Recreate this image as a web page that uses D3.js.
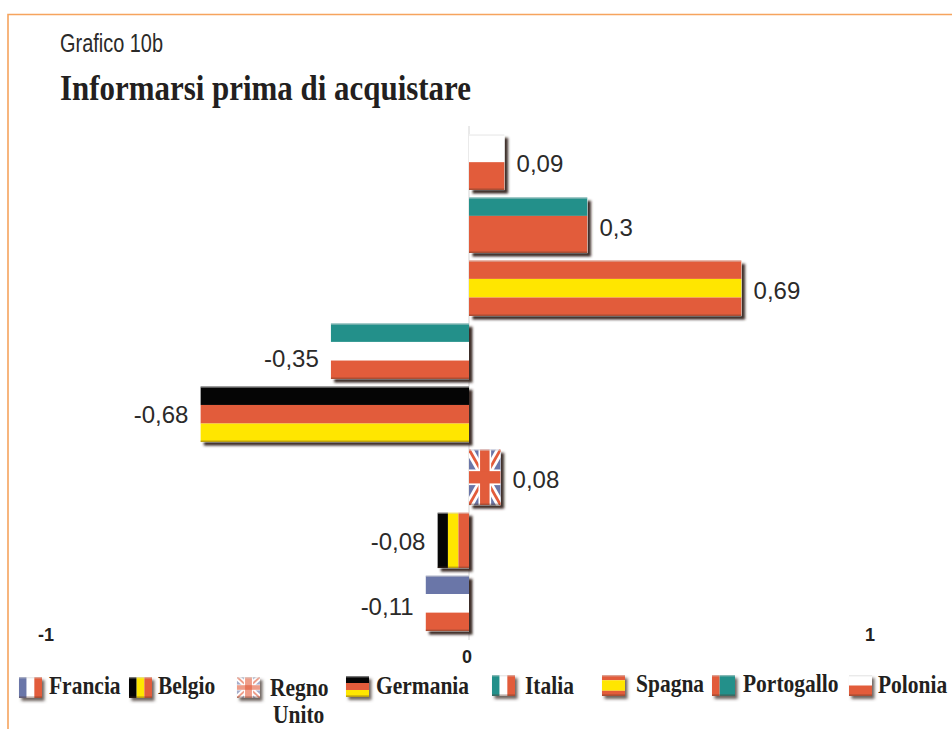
<!DOCTYPE html>
<html>
<head>
<meta charset="utf-8">
<script src="https://cdn.jsdelivr.net/npm/d3@7"></script>
<style>
html,body{margin:0;padding:0;background:#fff;}
svg{display:block;}
.val{font-family:"Liberation Sans",Arial,sans-serif;font-size:24px;fill:#2b2a29;}
.tick{font-family:"Liberation Sans",Arial,sans-serif;font-size:18px;font-weight:bold;fill:#231f20;}
.leg{font-family:"Liberation Serif",serif;font-size:25px;font-weight:bold;fill:#231f20;}
</style>
</head>
<body>
<script>
// ---- data ----
const categories = ["Polonia","Portogallo","Spagna","Italia","Germania","Regno Unito","Belgio","Francia"];
const values = [0.09,0.3,0.69,-0.35,-0.68,0.08,-0.08,-0.11];
const valueLabels = ["0,09","0,3","0,69","-0,35","-0,68","0,08","-0,08","-0,11"];
const axisTicks = [-1,0,1];
const legendOrder = ["Francia","Belgio","Regno Unito","Germania","Italia","Spagna","Portogallo","Polonia"];
const legendLines = [["Francia"],["Belgio"],["Regno","Unito"],["Germania"],["Italia"],["Spagna"],["Portogallo"],["Polonia"]];

// ---- palette ----
const RED="#e25c3b",TEAL="#23908a",YEL="#ffe600",WHITE="#ffffff",BLK="#050505",BLUE="#6a76a8";
const barFlags = {
  "Polonia":   {dir:"h",s:[[WHITE,1],[RED,1]]},
  "Portogallo":{dir:"h",s:[[TEAL,1],[RED,2]]},
  "Spagna":    {dir:"h",s:[[RED,1],[YEL,1],[RED,1]]},
  "Italia":    {dir:"h",s:[[TEAL,1],[WHITE,1],[RED,1]]},
  "Germania":  {dir:"h",s:[[BLK,1],[RED,1],[YEL,1]]},
  "Regno Unito":{dir:"uk"},
  "Belgio":    {dir:"v",s:[[BLK,1],[YEL,1],[RED,1]]},
  "Francia":   {dir:"h",s:[[BLUE,1],[WHITE,1],[RED,1]]}
};
const legendFlags = {
  "Polonia":   {dir:"h",s:[[WHITE,1],[RED,1]]},
  "Portogallo":{dir:"v",s:[[RED,1],[TEAL,2]]},
  "Spagna":    {dir:"h",s:[[RED,1],[YEL,2],[RED,1]]},
  "Italia":    {dir:"v",s:[[TEAL,1],[WHITE,1],[RED,1]]},
  "Germania":  {dir:"h",s:[[BLK,1],[RED,1],[YEL,1]]},
  "Regno Unito":{dir:"uk",pale:true},
  "Belgio":    {dir:"v",s:[[BLK,1],[YEL,1],[RED,1]]},
  "Francia":   {dir:"v",s:[[BLUE,1],[WHITE,1],[RED,1]]}
};

// ---- layout ----
const W=952,H=729;
const legendFlagX=[19,129,237,346,492,602,712,849];
const legendTextX=[49,158,270,376,525,636,743,878];
const legendBase=[694,694,696,694,694,692,692,693];
const legendFlagY=[677,677,677,676,675,675,675,675];
const labelDy=[1,2,2,7,0,2,1,3];
const LEG_SQUEEZE=.86, LEG_LINE=27;

const svg=d3.select("body").append("svg").attr("width",W).attr("height",H);
const defs=svg.append("defs");
const f=defs.append("filter").attr("id","sh").attr("x","-20%").attr("y","-20%").attr("width","150%").attr("height","150%");
f.append("feDropShadow").attr("dx",3.5).attr("dy",3.5).attr("stdDeviation",1.2).attr("flood-color","#33241c").attr("flood-opacity",.95);
const fl=defs.append("filter").attr("id","shl").attr("x","-20%").attr("y","-20%").attr("width","150%").attr("height","150%");
fl.append("feDropShadow").attr("dx",2.5).attr("dy",3).attr("stdDeviation",1.5).attr("flood-color","#4a4038").attr("flood-opacity",.8);

// frame
svg.append("path").attr("d",`M8,${H}V14.5H${W}`).attr("fill","none").attr("stroke","#f6a45e").attr("stroke-width",1.6);

// titles
svg.append("text").attr("x",60).attr("y",52).text("Grafico 10b")
  .attr("font-family",'"Liberation Sans",Arial,sans-serif').attr("font-size",25).attr("fill","#2b2a29")
  .attr("textLength",103).attr("lengthAdjust","spacingAndGlyphs");
svg.append("text").attr("x",60).attr("y",100).text("Informarsi prima di acquistare")
  .attr("font-family",'"Liberation Serif",serif').attr("font-weight","bold").attr("font-size",35).attr("fill","#231f20")
  .attr("textLength",411).attr("lengthAdjust","spacingAndGlyphs");

// scales
const x=d3.scaleLinear().domain([-1,1]).range([74,864]);
const y=d3.scaleBand().domain(categories).range([130.5,635]).paddingInner(.115).paddingOuter(.06);

// zero axis line
svg.append("line").attr("x1",x(0)).attr("x2",x(0)).attr("y1",126).attr("y2",640)
  .attr("stroke","#d4d4d4").attr("stroke-width",1);

let uid=0;
function drawFlag(g,spec,w,h,filter){
  const id="c"+(uid++);
  defs.append("clipPath").attr("id",id).append("rect").attr("width",w).attr("height",h);
  g.append("rect").attr("width",w).attr("height",h).attr("fill","#fff").attr("filter",filter);
  const inner=g.append("g").attr("clip-path",`url(#${id})`);
  if(spec.dir==="uk"){
    const o=spec.pale?.6:1;
    inner.append("rect").attr("width",w).attr("height",h).attr("fill",BLUE).attr("opacity",o);
    const sw=Math.min(w,h);
    [[0,0,w,h],[w,0,0,h]].forEach(c=>{
      inner.append("line").attr("x1",c[0]).attr("y1",c[1]).attr("x2",c[2]).attr("y2",c[3]).attr("stroke","#fff").attr("stroke-width",sw*.26);
      inner.append("line").attr("x1",c[0]).attr("y1",c[1]).attr("x2",c[2]).attr("y2",c[3]).attr("stroke",RED).attr("stroke-width",sw*.09).attr("opacity",o);
    });
    inner.append("rect").attr("x",w*.3).attr("width",w*.4).attr("height",h).attr("fill","#fff");
    inner.append("rect").attr("y",h*.36).attr("width",w).attr("height",h*.28).attr("fill","#fff");
    inner.append("rect").attr("x",w*.35).attr("width",w*.3).attr("height",h).attr("fill",RED).attr("opacity",o);
    inner.append("rect").attr("y",h*.39).attr("width",w).attr("height",h*.22).attr("fill",RED).attr("opacity",o);
  } else {
    const total=d3.sum(spec.s,d=>d[1]);
    const len=spec.dir==="h"?h:w;
    const t=d3.scaleLinear().domain([0,total]).range([0,len]);
    let acc=0;
    spec.s.forEach(d=>{
      const a=t(acc),b=t(acc+d[1]);acc+=d[1];
      const r=inner.append("rect").attr("fill",d[0]);
      if(spec.dir==="h") r.attr("x",0).attr("y",a).attr("width",w).attr("height",b-a);
      else r.attr("x",a).attr("y",0).attr("width",b-a).attr("height",h);
    });
  }
  inner.append("rect").attr("width",w).attr("height",1.4).attr("fill","#d8d8d8").attr("opacity",.55);
  inner.append("rect").attr("y",h-1.6).attr("width",w).attr("height",1.6).attr("fill","#5a3a2a").attr("opacity",.4);
}

// bars
categories.forEach((c,i)=>{
  const v=values[i];
  const x0=Math.min(x(0),x(v)),w=Math.abs(x(v)-x(0)),bh=y.bandwidth();
  const g=svg.append("g").attr("transform",`translate(${x0},${y(c)})`);
  drawFlag(g,barFlags[c],w,bh,"url(#sh)");
  svg.append("text").attr("class","val")
    .attr("x",v>=0?x(v)+12:x(v)-12).attr("y",y(c)+bh/2+8.5+labelDy[i])
    .attr("text-anchor",v>=0?"start":"end").text(valueLabels[i]);
});

// axis labels
svg.selectAll("text.tick").data(axisTicks).join("text").attr("class","tick")
  .attr("x",d=>d===0?x(0)-2:(d<0?x(d)-28:x(d)+6))
  .attr("y",d=>d===0?663:641)
  .attr("text-anchor","middle").text(d=>d);

// legend
legendOrder.forEach((c,i)=>{
  const g=svg.append("g").attr("transform",`translate(${legendFlagX[i]},${legendFlagY[i]})`);
  drawFlag(g,legendFlags[c],23,21,"url(#shl)");
  legendLines[i].forEach((ln,k)=>{
    svg.append("text").attr("class","leg")
      .attr("transform",`translate(${legendTextX[i]+(k?3:0)},${legendBase[i]+k*LEG_LINE}) scale(${LEG_SQUEEZE},1)`)
      .text(ln);
  });
});
</script>
</body>
</html>
